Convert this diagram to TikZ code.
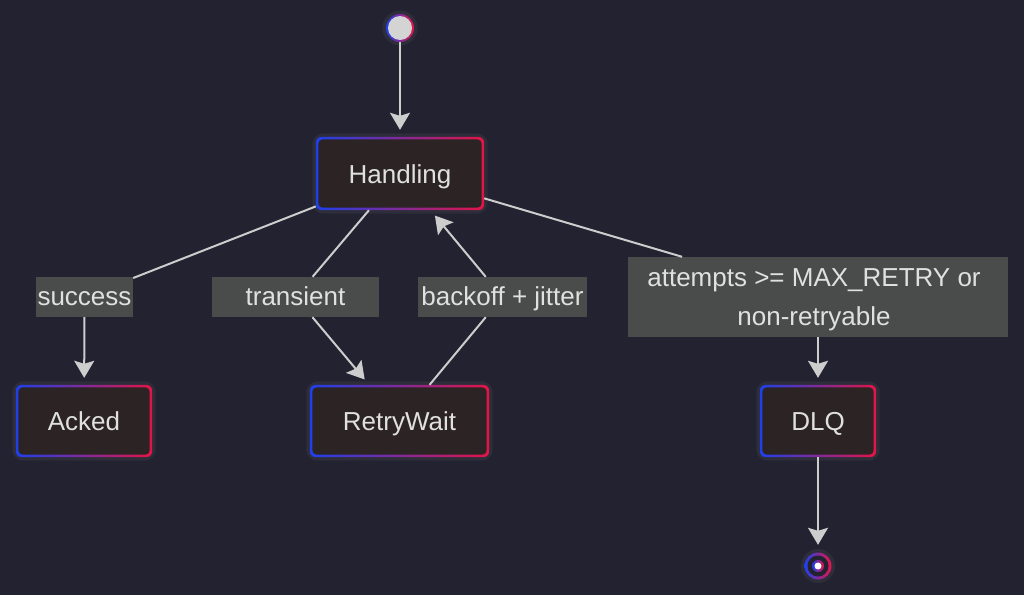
\documentclass[tikz,border=0pt]{standalone}
\usepackage{fontspec}
\setmainfont{Liberation Sans}
\usetikzlibrary{arrows.meta,backgrounds}
\definecolor{bgc}{RGB}{35,34,48}
\definecolor{nodec}{RGB}{43,35,36}
\definecolor{lblc}{RGB}{74,76,75}
\definecolor{linec}{RGB}{205,205,205}
\definecolor{txt}{RGB}{224,224,224}
\definecolor{gblue}{RGB}{30,64,235}
\definecolor{gred}{RGB}{228,20,70}
\definecolor{dotc}{RGB}{212,212,212}
\begin{document}
\begin{tikzpicture}[x=1pt,y=-1pt,
  txtfont/.style={font=\fontsize{26}{39}\selectfont, text=txt},
  state/.style={txtfont, inner sep=0pt, minimum height=72pt, text height=24pt, text depth=5pt},
  lbl/.style={txtfont, fill=lblc, inner sep=0pt, minimum height=40pt, text height=22pt, text depth=6pt},
  pt/.style={circle, inner sep=0pt, minimum size=28pt},
  edge/.style={draw=linec, line width=2pt},
  arr/.style={edge, -{Stealth[length=17pt,width=20pt,inset=3pt]}, shorten >=7pt},
  glow/.style={draw=white, opacity=0.05, line width=7pt}
]
% nodes
\node[pt] (S) at (400,28) {};
\node[state, minimum width=168pt, minimum height=73pt] (H) at (400,173.5) {Handling};
\node[state, minimum width=136pt] (A) at (84,421) {Acked};
\node[state, minimum width=179pt] (R) at (399.5,421) {RetryWait};
\node[state, minimum width=116pt] (D) at (818,421) {DLQ};
\node[pt] (E) at (818,566) {};
% labels
\node[lbl, minimum width=97pt] (Ls) at (84.5,297) {success};
\node[lbl, minimum width=167pt] (Lt) at (295.5,297) {transient};
\node[lbl, minimum width=169pt] (Lb) at (502.5,297) {backoff + jitter};
\node[fill=lblc, inner sep=0pt, minimum width=380pt, minimum height=80pt] (La) at (818,297) {};
\node[txtfont, align=center, inner sep=0pt] (Lat) at (814,300) {attempts >= MAX\_RETRY or\\non-retryable};
% edges
\draw[arr] (S) -- (H);
\draw[edge] (H) -- (Ls);
\draw[arr] (Ls) -- (A);
\draw[edge] (H) -- (Lt);
\draw[arr] (Lt) -- (R);
\draw[edge] (R) -- (Lb);
\draw[arr] (Lb) -- (H);
\draw[edge] (H) -- (La);
\draw[arr] (La) -- (D);
\draw[arr] (D) -- (E);
% backgrounds and borders
\begin{scope}[on background layer]
  \fill[bgc] (0,0) rectangle (1024,595);
  \foreach \n in {H,A,R,D}{
    \draw[glow, rounded corners=8pt] (\n.south west) rectangle (\n.north east);
    \shade[left color=gblue, right color=gred, rounded corners=6pt] (\n.south west) rectangle (\n.north east);
    \fill[nodec, rounded corners=4.5pt] ([xshift=2.5pt,yshift=2.5pt]\n.south west) rectangle ([xshift=-2.5pt,yshift=-2.5pt]\n.north east);
  }
  \draw[glow] (S.center) circle (14pt);
  \shade[left color=gblue, right color=gred] (S.center) circle (14pt);
  \fill[dotc] (S.center) circle (12pt);
  \draw[glow] (E.center) circle (13.5pt);
  \shade[left color=gblue, right color=gred] (E.center) circle (13.5pt);
  \fill[bgc] (E.center) circle (10.5pt);
  \shade[left color=gblue, right color=gred] (E.center) circle (6pt);
  \fill[white] (E.center) circle (3.5pt);
\end{scope}
\end{tikzpicture}
\end{document}
